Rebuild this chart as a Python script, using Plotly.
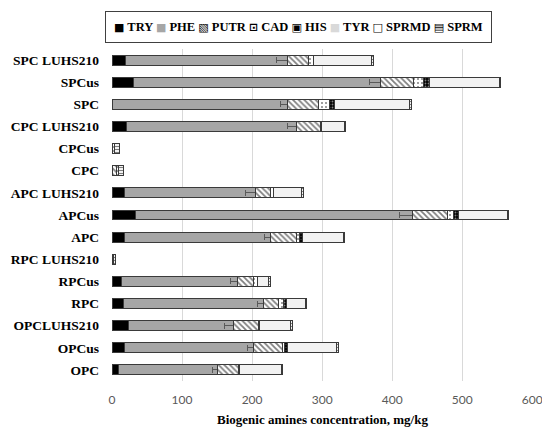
import plotly.graph_objects as go

# Categories listed bottom -> top
categories = ["OPC", "OPCus", "OPCLUHS210", "RPC", "RPCus", "RPC LUHS210",
              "APC", "APCus", "APC LUHS210", "CPC", "CPCus", "CPC LUHS210",
              "SPC", "SPCus", "SPC LUHS210"]

TRY   = [9, 18, 23, 16, 14, 0, 18, 33, 18, 0, 0, 21, 1, 30, 19]
PHE   = [141, 184, 151, 200, 165, 0, 208, 396, 187, 0, 0, 243, 249, 354, 231]
PUTR  = [31, 41, 35, 22, 23, 0, 38, 50, 21, 6, 0, 34, 45, 46, 30]
CAD   = [1, 3, 1, 7, 5, 2, 4, 8, 5, 3, 4, 1, 15, 14, 8]
HIS   = [0, 4, 0, 4, 0, 0, 4, 8, 0, 0, 0, 0, 8, 9, 0]
TYR   = [0, 0, 0, 0, 0, 0, 0, 0, 0, 0, 0, 0, 0, 0, 0]
SPRMD = [60, 71, 45, 27, 17, 0, 58, 69, 40, 0, 0, 33, 107, 100, 83]
SPRM  = [2, 2, 2, 2, 2, 3, 2, 2, 2, 7, 6, 2, 2, 2, 2]
PHE_err = [7, 9, 14, 9, 10, 0, 9, 19, 15, 0, 0, 13, 9, 16, 15]

series_names = ["TRY", "PHE", "PUTR", "CAD", "HIS", "TYR", "SPRMD", "SPRM"]
series_values = [TRY, PHE, PUTR, CAD, HIS, TYR, SPRMD, SPRM]

x_ticks = [0, 100, 200, 300, 400, 500, 600]

styles = {
    "TRY":   dict(color="#000000"),
    "PHE":   dict(color="#a6a6a6"),
    "PUTR":  dict(color="#ffffff", pattern=dict(shape="\\", fgcolor="#000000", bgcolor="#ffffff", size=4, solidity=0.45)),
    "CAD":   dict(color="#ffffff", pattern=dict(shape=".", fgcolor="#000000", bgcolor="#ffffff", size=4, solidity=0.2)),
    "HIS":   dict(color="#000000", pattern=dict(shape=".", fgcolor="#ffffff", bgcolor="#000000", size=3, solidity=0.3)),
    "TYR":   dict(color="#d9d9d9"),
    "SPRMD": dict(color="#f2f2f2"),
    "SPRM":  dict(color="#ffffff", pattern=dict(shape="-", fgcolor="#000000", bgcolor="#ffffff", size=3, solidity=0.4)),
}

fig = go.Figure()
for name, vals in zip(series_names, series_values):
    st = dict(styles[name])
    marker = dict(color=st["color"], line=dict(color="#3a3a3a", width=1))
    if "pattern" in st:
        marker["pattern"] = st["pattern"]
    kw = {}
    if name == "PHE":
        kw["error_x"] = dict(type="data", symmetric=False, array=[0] * len(PHE_err),
                             arrayminus=PHE_err, color="#595959", thickness=1, width=3)
    fig.add_trace(go.Bar(y=categories, x=vals, name=name, orientation="h",
                         marker=marker, showlegend=False, **kw))

serif = "Liberation Serif"
glyphs = ["■", "■", "▧", "⊡", "▣", "■", "□", "▤"]
glyph_colors = ["#000000", "#a6a6a6", "#000000", "#000000", "#000000", "#d9d9d9", "#000000", "#000000"]
legend_text = " ".join(
    f"<span style='color:{c};font-family:DejaVu Sans;font-size:11px'>{g}</span> {n}"
    for g, c, n in zip(glyphs, glyph_colors, series_names)
)

fig.add_annotation(xref="paper", yref="paper", x=0.442, y=1.066,
                   xanchor="center", yanchor="middle", showarrow=False,
                   text=legend_text,
                   font=dict(family=serif, size=12.5, color="#000000", weight="bold"),
                   bordercolor="#404040", borderwidth=1, borderpad=8, bgcolor="#ffffff")

fig.update_layout(
    width=542, height=428,
    margin=dict(l=112, r=9, t=49, b=47),
    barmode="stack", bargap=0.55,
    plot_bgcolor="#ffffff", paper_bgcolor="#ffffff",
    xaxis=dict(range=[0, 601], tickvals=x_ticks, showgrid=True, gridcolor="#d9d9d9",
               gridwidth=1, zeroline=False, showline=False, automargin=False,
               ticklabeloverflow="allow",
               tickfont=dict(family="Lato", size=12, color="#595959"),
               ticklabelstandoff=10,
               title=dict(text="Biogenic amines concentration, mg/kg", standoff=8,
                          font=dict(family=serif, size=13, color="#000000", weight="bold"))),
    yaxis=dict(categoryorder="array", categoryarray=categories, showgrid=False,
               zeroline=False, showline=False, ticklabelstandoff=12, automargin=False,
               tickfont=dict(family=serif, size=13.5, color="#000000", weight="bold")),
)

fig.write_html("out.html", post_script="document.body.style.margin='0';",
               config={"displayModeBar": False})
